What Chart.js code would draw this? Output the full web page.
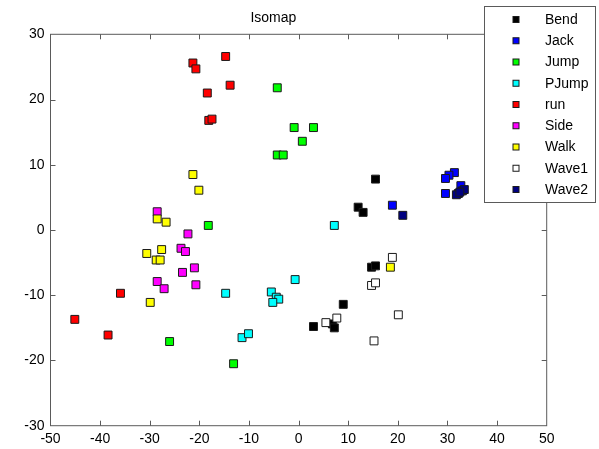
<!DOCTYPE html>
<html>
<head>
<meta charset="utf-8">
<script src="https://cdn.jsdelivr.net/npm/chart.js@4/dist/chart.umd.min.js"></script>
<style>
  html, body { margin: 0; padding: 0; background: #ffffff; }
  #wrap { width: 599px; height: 449px; }
</style>
</head>
<body>
<div id="wrap"><canvas id="c" width="599" height="449"></canvas></div>
<script>
// ---- data ----
const categories = ["Bend", "Jack", "Jump", "PJump", "run", "Side", "Walk", "Wave1", "Wave2"];
const colors = ["#000000", "#0000ff", "#00ff00", "#00ffff", "#ff0000", "#ff00ff", "#ffff00", "#ffffff", "#000080"];

const bendX  = [15.5, 12.0, 13.0, 14.7, 15.5, 9.0, 3.0, 6.8, 7.2];
const bendY  = [7.8, 3.5, 2.7, -5.7, -5.5, -11.4, -14.8, -14.4, -15.0];
const jackX  = [31.4, 30.3, 29.6, 29.6, 32.7, 18.9];
const jackY  = [8.8, 8.4, 7.9, 5.6, 6.8, 3.8];
const jumpX  = [-4.3, -0.9, 3.0, 0.75, -4.3, -3.1, -18.2, -26.0, -13.1];
const jumpY  = [21.8, 15.7, 15.7, 13.6, 11.5, 11.5, 0.7, -17.1, -20.5];
const pjumpX = [7.2, -0.7, -5.5, -4.5, -4.0, -5.2, -11.4, -10.1, -14.7];
const pjumpY = [0.7, -7.6, -9.5, -10.3, -10.6, -11.1, -16.5, -15.9, -9.7];
const runX   = [-21.3, -20.7, -14.7, -13.8, -18.4, -18.1, -17.45, -35.9, -45.1, -38.4];
const runY   = [25.6, 24.7, 26.6, 22.2, 21.0, 16.8, 17.0, -9.7, -13.7, -16.1];
const sideX  = [-28.5, -22.3, -23.7, -22.8, -21.0, -23.4, -28.5, -27.1, -20.7];
const sideY  = [2.8, -0.6, -2.8, -3.3, -5.8, -6.5, -7.9, -9.0, -8.4];
const walkX  = [-21.3, -20.1, -28.5, -26.7, -30.6, -27.6, -28.7, -27.9, -29.9, 18.5];
const walkY  = [8.5, 6.1, 1.7, 1.2, -3.6, -3.0, -4.6, -4.6, -11.1, -5.7];
const wave1X = [18.9, 14.7, 15.5, 20.1, 15.2, 5.5, 7.7];
const wave1Y = [-4.2, -8.5, -8.1, -13.0, -17.0, -14.2, -13.5];
const wave2X = [21.0, 32.2, 33.0, 31.8, 33.4, 32.5];
const wave2Y = [2.25, 5.6, 6.0, 5.4, 6.2, 5.8];

const xTicks = [-50, -40, -30, -20, -10, 0, 10, 20, 30, 40, 50];
const yTicks = [-30, -20, -10, 0, 10, 20, 30];
const titleText = "Isomap";

const seriesX = [bendX, jackX, jumpX, pjumpX, runX, sideX, walkX, wave1X, wave2X];
const seriesY = [bendY, jackY, jumpY, pjumpY, runY, sideY, walkY, wave1Y, wave2Y];

const FONT = "'Liberation Sans', Arial, Helvetica, sans-serif";
const AXIS_COLOR = "#5a5a5a";

const datasets = categories.map((name, i) => ({
  label: name,
  data: seriesX[i].map((x, k) => ({ x: x, y: seriesY[i][k] })),
  backgroundColor: colors[i],
  borderColor: "#1a1a1a",
  borderWidth: 1,
  pointStyle: "rect",
  pointRadius: 5.6,
  order: categories.length - i
}));

// Box with inward ticks (MATLAB style)
const boxPlugin = {
  id: "boxPlugin",
  beforeDatasetsDraw(chart) {
    const { ctx, chartArea: a, scales } = chart;
    ctx.save();
    ctx.strokeStyle = AXIS_COLOR;
    ctx.lineWidth = 1;
    ctx.strokeRect(a.left, a.top, a.right - a.left, a.bottom - a.top);
    const len = 5;
    ctx.beginPath();
    xTicks.forEach(v => {
      const px = Math.round(scales.x.getPixelForValue(v)) + 0.5;
      if (v === xTicks[0] || v === xTicks[xTicks.length - 1]) return;
      ctx.moveTo(px, a.bottom); ctx.lineTo(px, a.bottom - len);
      ctx.moveTo(px, a.top); ctx.lineTo(px, a.top + len);
    });
    yTicks.forEach(v => {
      const py = Math.round(scales.y.getPixelForValue(v)) + 0.5;
      if (v === yTicks[0] || v === yTicks[yTicks.length - 1]) return;
      ctx.moveTo(a.left, py); ctx.lineTo(a.left + len, py);
      ctx.moveTo(a.right, py); ctx.lineTo(a.right - len, py);
    });
    ctx.stroke();
    ctx.restore();
  },
  afterDraw(chart) {
    // legend box overlapping the top-right of the axes
    const { ctx } = chart;
    const bx = 484.5, by = 6.5, bw = 111, bh = 196;
    ctx.save();
    ctx.fillStyle = "#ffffff";
    ctx.fillRect(bx, by, bw, bh);
    ctx.strokeStyle = AXIS_COLOR;
    ctx.lineWidth = 1;
    ctx.strokeRect(bx, by, bw, bh);
    ctx.font = "14px " + FONT;
    ctx.textBaseline = "middle";
    ctx.textAlign = "left";
    chart.data.datasets.forEach((ds, i) => {
      const cy = 19.5 + i * 21.25;
      const s = 6;
      ctx.fillStyle = ds.backgroundColor;
      ctx.fillRect(516 - s / 2, cy - s / 2, s, s);
      ctx.strokeStyle = "#1a1a1a";
      ctx.strokeRect(516 - s / 2, cy - s / 2, s, s);
      ctx.fillStyle = "#000000";
      ctx.fillText(ds.label, 545, cy + 0.5);
    });
    ctx.restore();
  }
};

new Chart(document.getElementById("c"), {
  type: "scatter",
  data: { datasets: datasets },
  plugins: [boxPlugin],
  options: {
    responsive: false,
    animation: false,
    events: [],
    layout: { padding: { left: 0, right: 52.3, top: 0, bottom: 0 } },
    plugins: {
      legend: { display: false },
      tooltip: { enabled: false },
      title: {
        display: true,
        text: titleText,
        color: "#000000",
        font: { family: FONT, size: 14, weight: "normal", lineHeight: 1.2 },
        padding: { top: 9.6, bottom: 7.9 }
      }
    },
    scales: {
      x: {
        type: "linear",
        min: -50, max: 50,
        afterBuildTicks: s => { s.ticks = xTicks.map(v => ({ value: v })); },
        afterFit: s => { s.height = 23.3; },
        grid: { display: false, drawTicks: false },
        border: { display: false },
        ticks: { color: "#000000", padding: 4.9, maxRotation: 0, autoSkip: false,
                 font: { family: FONT, size: 14 } }
      },
      y: {
        type: "linear",
        min: -30, max: 30,
        afterBuildTicks: s => { s.ticks = yTicks.map(v => ({ value: v })); },
        afterFit: s => { s.width = 50.5; },
        grid: { display: false, drawTicks: false },
        border: { display: false },
        ticks: { color: "#000000", padding: 6, autoSkip: false,
                 font: { family: FONT, size: 14 } }
      }
    }
  }
});
</script>
</body>
</html>
